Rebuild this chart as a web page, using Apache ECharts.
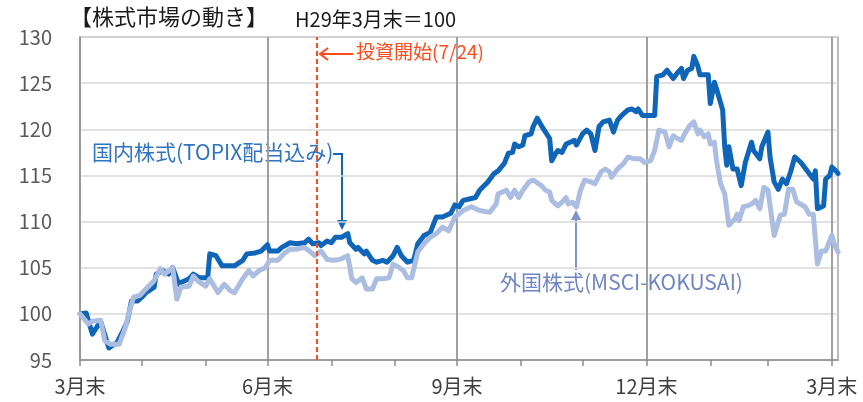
<!DOCTYPE html>
<html><head><meta charset="utf-8">
<script src="https://cdn.jsdelivr.net/npm/echarts@6/dist/echarts.min.js"></script>
<style>html,body{margin:0;padding:0;background:#fff}#c{width:863px;height:402px}</style>
</head><body><div id="c"></div>
<script>
// Days counted from 2017-03-31 (H29年3月末 = 100)
const startDate = [2017, 2, 31];
const totalDays = 369;
const yTicks = [95, 100, 105, 110, 115, 120, 125, 130];
const investStart = '2017-07-24';

const domDays = [0,3,6,8,10,14,18,21,23,25,28,30,32,36,37,40,43,45,48,49,53,55,58,62,63,66,69,75,79,81,85,88,91,92,96,98,102,105,109,111,113,116,117,120,122,124,127,130,131,134,135,138,139,142,144,147,149,152,154,156,159,162,164,167,170,173,176,180,182,184,186,190,192,194,198,201,203,206,208,210,211,213,215,216,219,220,222,224,226,228,229,231,232,234,236,238,240,241,244,246,248,250,252,254,257,259,261,263,266,268,270,271,273,279,280,283,285,288,290,292,293,295,297,298,300,301,305,306,308,309,312,313,314,315,317,319,321,323,326,327,330,331,334,335,337,339,341,343,345,347,350,353,356,357,358,361,362,364,365,367,368];
const domVals = [100.0,100.1,97.8,98.5,99.2,96.3,96.9,98.2,99.2,101.4,101.4,101.8,102.3,102.9,104.3,104.7,104.3,105.0,103.2,103.4,103.8,104.3,103.9,103.9,106.5,106.3,105.2,105.2,105.8,106.5,106.6,106.8,107.5,106.8,106.8,107.2,107.7,107.6,107.7,108.1,107.6,107.7,107.4,107.9,107.7,108.3,108.3,108.7,107.7,107.0,107.2,106.5,106.8,105.8,105.6,105.8,105.6,106.3,107.2,106.3,105.6,105.8,107.6,108.5,108.8,110.5,110.5,110.9,111.8,111.6,112.3,112.5,112.6,113.4,114.3,115.2,115.5,116.3,117.4,117.5,118.4,118.1,118.3,119.3,119.5,120.3,121.2,120.4,119.7,119.0,116.6,117.4,117.7,117.5,118.4,118.6,118.8,118.3,119.5,119.9,119.5,117.7,120.3,120.8,121.0,119.7,121.0,121.5,122.1,122.2,121.9,122.2,121.5,121.5,125.7,125.9,126.4,125.5,126.1,126.6,125.5,126.4,126.6,127.9,126.8,125.9,125.9,122.8,125.1,124.4,122.1,118.1,116.1,118.1,115.7,115.7,113.9,116.4,118.6,117.7,116.8,118.1,119.7,117.0,114.3,113.5,114.6,114.1,115.4,117.0,116.4,115.5,114.6,115.5,111.4,111.7,114.6,115.0,115.9,115.5,115.2];

const forDays = [0,4,6,10,12,15,19,22,24,26,29,32,36,39,41,45,47,49,53,55,57,61,63,67,70,73,75,79,82,84,87,90,92,96,99,102,105,109,112,114,117,120,123,126,130,132,134,137,139,142,144,147,150,152,155,157,159,161,164,167,170,173,176,179,182,186,190,194,199,202,203,207,209,211,213,215,218,220,224,226,228,229,232,234,236,237,239,241,243,245,248,250,253,255,257,258,261,264,266,269,272,274,277,279,281,284,286,288,290,292,294,296,298,300,301,303,305,306,308,309,311,313,315,318,319,320,322,324,326,328,330,332,334,337,340,342,344,346,348,352,354,356,358,360,362,365,366,368];
const forVals = [100.0,98.9,99.2,99.3,97.1,96.7,96.7,98.5,100.3,101.8,102.0,102.7,103.6,104.9,104.3,105.0,101.6,102.9,103.0,104.1,103.6,103.0,103.8,102.3,103.2,102.5,102.3,103.8,104.7,104.1,104.7,105.0,105.8,105.8,106.5,107.0,107.0,107.2,106.7,106.3,106.8,105.9,105.8,105.9,106.3,103.8,103.4,103.9,102.7,102.7,103.8,103.8,103.9,105.4,105.0,104.7,103.9,103.9,106.7,107.6,108.3,108.7,109.4,109.0,110.5,111.2,111.6,111.2,111.0,111.9,113.0,113.4,112.6,113.4,112.6,113.4,114.3,114.5,113.9,113.4,113.2,112.3,111.7,112.1,112.6,111.9,112.1,111.6,113.4,114.5,114.3,114.1,115.4,115.7,115.4,114.8,115.7,116.3,117.0,116.8,116.8,116.4,116.6,117.7,119.9,119.7,118.1,119.3,119.0,118.8,119.7,120.4,120.8,119.5,119.9,119.2,119.5,118.4,118.6,116.6,114.1,113.0,109.6,110.3,110.8,110.1,111.6,111.7,111.9,112.3,111.4,113.7,113.4,108.5,110.7,110.8,113.5,113.5,112.1,111.6,110.8,110.8,105.4,106.8,106.8,108.5,107.7,106.7];

const domName = '国内株式(TOPIX配当込み)';
const forName = '外国株式(MSCI-KOKUSAI)';

// build date categories
const cats = [];
const isMonthEnd = [];
for (let i = 0; i < totalDays; i++) {
  const d = new Date(startDate[0], startDate[1], startDate[2] + i);
  const n = new Date(startDate[0], startDate[1], startDate[2] + i + 1);
  const mm = d.getMonth() + 1, dd = d.getDate();
  cats.push(d.getFullYear() + '-' + String(mm).padStart(2,'0') + '-' + String(dd).padStart(2,'0'));
  isMonthEnd.push(n.getDate() === 1);
}
const isQuarterEnd = (i) => {
  if (!isMonthEnd[i]) return false;
  const m = +cats[i].slice(5, 7);
  return m % 3 === 0;
};

const FONT = '"Noto Sans CJK JP", "Noto Sans", sans-serif';
const chart = echarts.init(document.getElementById('c'), null, { renderer: 'canvas' });
const option = {
  animation: false,
  textStyle: { fontFamily: FONT },
  grid: { left: 80, right: 25, top: 37, bottom: 42, show: true, borderColor: '#a6a6a6', borderWidth: 1.5 },
  xAxis: {
    type: 'category',
    data: cats,
    boundaryGap: false,
    axisLine: { lineStyle: { color: '#8c8c8c', width: 1.5 } },
    axisTick: { show: true, length: 6, interval: (i) => isMonthEnd[i], lineStyle: { color: '#8c8c8c', width: 1.5 } },
    axisLabel: {
      interval: (i) => isQuarterEnd(i),
      formatter: (v) => (+v.slice(5, 7)) + '月末',
      color: '#404040', fontSize: 20, margin: 16, fontFamily: FONT
    },
    splitLine: { show: true, interval: (i) => i > 0 && isQuarterEnd(i), lineStyle: { color: '#a0a0a0', width: 2 } }
  },
  yAxis: {
    type: 'value', min: yTicks[0], max: yTicks[yTicks.length - 1], interval: 5,
    axisLine: { show: true, lineStyle: { color: '#8c8c8c', width: 1.5 } },
    axisTick: { show: false },
    axisLabel: { color: '#595959', fontSize: 20, margin: 28, fontFamily: FONT },
    splitLine: { lineStyle: { color: '#d9d9d9', width: 1.5 } }
  },
  series: [
    {
      name: domName, type: 'line', showSymbol: false, symbol: 'none',
      data: domDays.map((d, i) => [d, domVals[i]]),
      lineStyle: { color: '#0f66b8', width: 5, join: 'round', cap: 'round' },
      z: 2,
      markLine: {
        silent: true, symbol: 'none', label: { show: false },
        lineStyle: { color: '#ff4a1c', type: [5, 3], width: 2 },
        data: [{ xAxis: investStart }]
      }
    },
    {
      name: forName, type: 'line', showSymbol: false, symbol: 'none',
      data: forDays.map((d, i) => [d, forVals[i]]),
      lineStyle: { color: '#abbee2', width: 5, join: 'round', cap: 'round' },
      z: 3
    }
  ],
  graphic: [
    { type: 'text', left: 70, top: 6, style: { text: '【株式市場の動き】', font: '22px ' + FONT, fill: '#1a1a1a' } },
    { type: 'text', left: 295, top: 9, style: { text: 'H29年3月末＝100', font: '20px ' + FONT, fill: '#1a1a1a' } },
    // investment start annotation
    { type: 'text', left: 356, top: 42, style: { text: '投資開始(7/24)', font: '19px ' + FONT, fill: '#ff4a1c' } },
    { type: 'line', shape: { x1: 353, y1: 54, x2: 322, y2: 54 }, style: { stroke: '#ff4a1c', lineWidth: 2 } },
    { type: 'polyline', shape: { points: [[328, 48], [320, 54], [328, 60]] }, style: { stroke: '#ff4a1c', lineWidth: 2, fill: null } },
    // domestic annotation
    { type: 'text', left: 92, top: 142, style: { text: domName, font: '21px ' + FONT, fill: '#2f74c0' } },
    { type: 'polyline', shape: { points: [[333, 154], [342, 154], [342, 222]] }, style: { stroke: '#1565b8', lineWidth: 2, fill: null } },
    { type: 'polygon', shape: { points: [[337, 220], [347, 220], [342, 230]] }, style: { fill: '#1565b8' } },
    // foreign annotation
    { type: 'text', left: 500, top: 272, style: { text: forName, font: '21px ' + FONT, fill: '#6f86c2' } },
    { type: 'line', shape: { x1: 576, y1: 270, x2: 576, y2: 218 }, style: { stroke: '#7f94cc', lineWidth: 2 } },
    { type: 'polygon', shape: { points: [[571, 220], [581, 220], [576, 210]] }, style: { fill: '#7f94cc' } }
  ]
};
chart.setOption(option);
</script>
</body></html>
